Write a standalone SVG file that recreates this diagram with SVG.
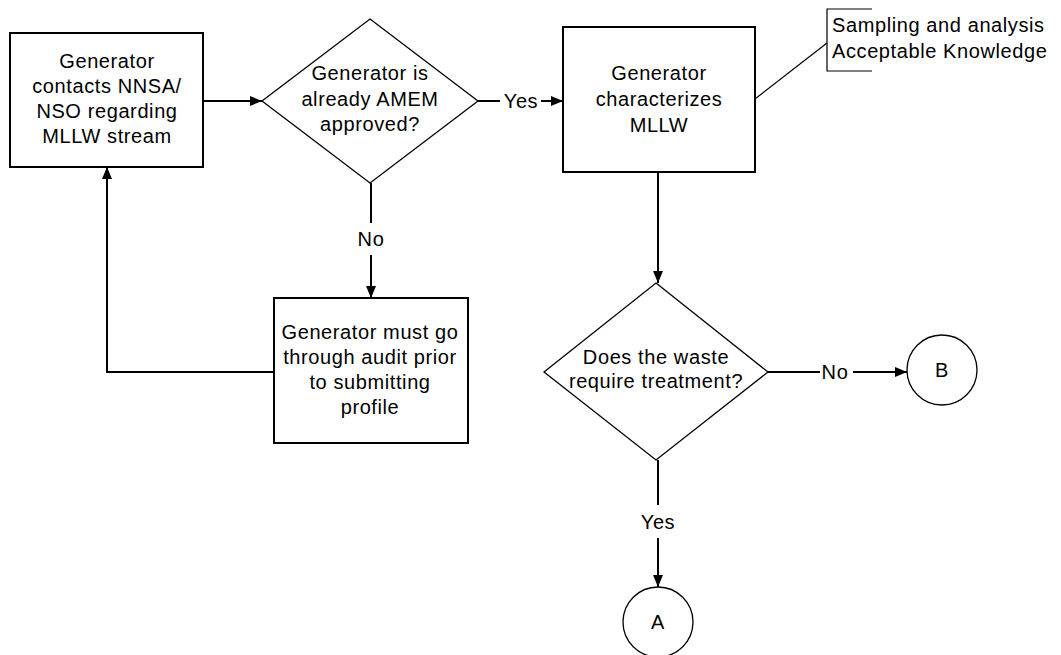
<svg xmlns="http://www.w3.org/2000/svg" width="1061" height="655" viewBox="0 0 1061 655">
<style>
.box{fill:#fff;stroke:#000;stroke-width:2}
.dia{fill:#fff;stroke:#000;stroke-width:1.3}
.cir{fill:#fff;stroke:#000;stroke-width:1.3}
.ln{fill:none;stroke:#000;stroke-width:2}
.thin{fill:none;stroke:#000;stroke-width:1.2}
text{font-family:"Liberation Sans",Arial,sans-serif;font-size:20px;fill:#000;letter-spacing:0.6px}
.c{text-anchor:middle;dominant-baseline:central}
.l{text-anchor:start;dominant-baseline:central}
</style>
<defs>
<marker id="ah" markerWidth="12" markerHeight="10" refX="12" refY="5" orient="auto" markerUnits="userSpaceOnUse">
<path d="M0,0 L12,5 L0,10 z" fill="#000"/>
</marker>
</defs>
<rect width="1061" height="655" fill="#fff"/>
<g id="connectors">
<line class="ln" x1="203" y1="101" x2="262" y2="101" marker-end="url(#ah)"/>
<line class="ln" x1="478" y1="101" x2="500" y2="101"/>
<line class="ln" x1="541" y1="101" x2="563" y2="101" marker-end="url(#ah)"/>
<line class="ln" x1="371" y1="183" x2="371" y2="223"/>
<line class="ln" x1="371" y1="255" x2="371" y2="298" marker-end="url(#ah)"/>
<polyline class="ln" points="274,372 107,372 107,167" marker-end="url(#ah)"/>
<line class="ln" x1="658" y1="172" x2="658" y2="283" marker-end="url(#ah)"/>
<line class="ln" x1="768" y1="372" x2="820" y2="372"/>
<line class="ln" x1="853" y1="372" x2="907" y2="372" marker-end="url(#ah)"/>
<line class="ln" x1="658" y1="460" x2="658" y2="505"/>
<line class="ln" x1="658" y1="538" x2="658" y2="587" marker-end="url(#ah)"/>
<line class="thin" x1="755" y1="99" x2="827" y2="43"/>
<text class="c" x="521" y="101">Yes</text>
<text class="c" x="371" y="239">No</text>
<text class="c" x="835" y="372">No</text>
<text class="c" x="658" y="522">Yes</text>
</g>
<g id="n1">
<rect class="box" x="10" y="33" width="193" height="134"/>
<text class="c" x="107" y="61">Generator</text>
<text class="c" x="107" y="86">contacts NNSA/</text>
<text class="c" x="107" y="111">NSO regarding</text>
<text class="c" x="107" y="136">MLLW stream</text>
</g>
<g id="d1">
<polygon class="dia" points="370,19 478,101 370,183 262,101"/>
<text class="c" x="370" y="73">Generator is</text>
<text class="c" x="370" y="99">already AMEM</text>
<text class="c" x="370" y="124">approved?</text>
</g>
<g id="n2">
<rect class="box" x="274" y="298" width="194" height="145"/>
<text class="c" x="370" y="332">Generator must go</text>
<text class="c" x="370" y="357">through audit prior</text>
<text class="c" x="370" y="382">to submitting</text>
<text class="c" x="370" y="407">profile</text>
</g>
<g id="n3">
<rect class="box" x="563" y="27" width="192" height="145"/>
<text class="c" x="659" y="73">Generator</text>
<text class="c" x="659" y="99">characterizes</text>
<text class="c" x="659" y="125">MLLW</text>
</g>
<g id="note">
<polyline class="thin" points="872,9 827,9 827,71 872,71"/>
<text class="l" x="832" y="25">Sampling and analysis</text>
<text class="l" x="832" y="51">Acceptable Knowledge</text>
</g>
<g id="d2">
<polygon class="dia" points="656,283 768,372 656,460 544,372"/>
<text class="c" x="656" y="357">Does the waste</text>
<text class="c" x="656" y="381">require treatment?</text>
</g>
<g id="cB">
<circle class="cir" cx="942" cy="370" r="35"/>
<text class="c" x="942" y="370">B</text>
</g>
<g id="cA">
<circle class="cir" cx="658" cy="622" r="35"/>
<text class="c" x="658" y="622">A</text>
</g>
</svg>
